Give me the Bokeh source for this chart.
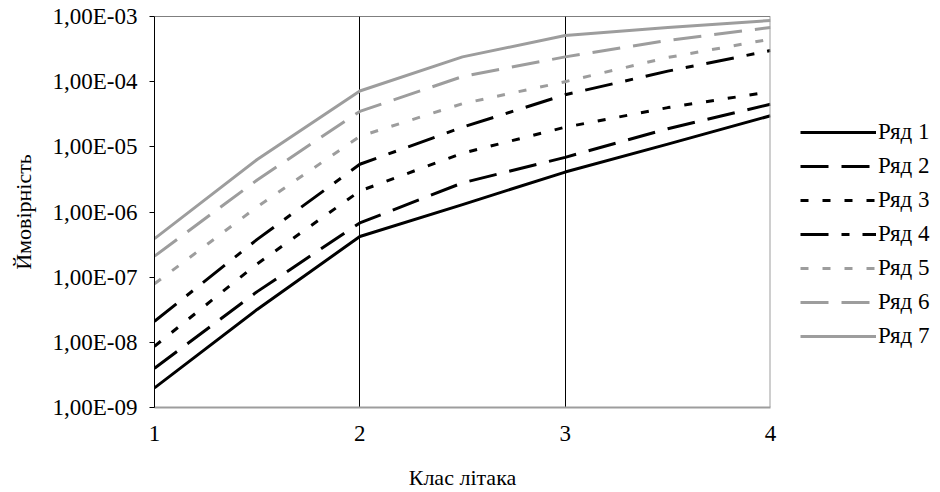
from bokeh.plotting import figure
from bokeh.models import (Range1d, FixedTicker, Span, Legend, LegendItem)
from bokeh.layouts import row
from bokeh.embed import file_html
from bokeh.resources import INLINE

# ---- data ----
x_class = [1, 1.5, 2, 2.5, 3, 3.5, 4]
ryad_1 = [2.0e-9, 3.2e-8, 4.2e-7, 1.3e-6, 4.1e-6, 1.1e-5, 3.0e-5]
ryad_2 = [4.0e-9, 6.0e-8, 6.8e-7, 2.8e-6, 6.9e-6, 1.9e-5, 4.5e-5]
ryad_3 = [8.7e-9, 1.6e-7, 2.1e-6, 8.0e-6, 2.0e-5, 4.0e-5, 7.0e-5]
ryad_4 = [2.1e-8, 3.8e-7, 5.4e-6, 2.0e-5, 6.3e-5, 1.45e-4, 3.0e-4]
ryad_5 = [7.9e-8, 1.2e-6, 1.45e-5, 4.6e-5, 1.0e-4, 2.35e-4, 4.5e-4]
ryad_6 = [2.1e-7, 3.1e-6, 3.5e-5, 1.2e-4, 2.4e-4, 4.3e-4, 6.8e-4]
ryad_7 = [3.9e-7, 6.4e-6, 7.2e-5, 2.4e-4, 5.1e-4, 6.8e-4, 8.7e-4]
series_names = ["Ряд 1", "Ряд 2", "Ряд 3", "Ряд 4", "Ряд 5", "Ряд 6", "Ряд 7"]
x_ticks = [1, 2, 3, 4]
x_tick_labels = ["1", "2", "3", "4"]
y_ticks = [1e-9, 1e-8, 1e-7, 1e-6, 1e-5, 1e-4, 1e-3]
y_tick_labels = ["1,00E-09", "1,00E-08", "1,00E-07", "1,00E-06",
                 "1,00E-05", "1,00E-04", "1,00E-03"]
x_title = "Клас літака"
y_title = "Ймовірність"

FONT = "Liberation Serif"
GRAY = "#9d9d9d"
BLACK = "#000000"
H = 492

p = figure(width=780, height=H, y_axis_type="log",
           x_range=Range1d(1, 4), y_range=Range1d(1e-9, 1e-3),
           output_backend="svg", toolbar_location=None,
           min_border_left=154, min_border_right=10,
           min_border_top=16, min_border_bottom=82)
p.outline_line_color = None
p.background_fill_color = "white"

# axes
p.xaxis.ticker = FixedTicker(ticks=x_ticks)
p.xaxis.major_label_overrides = {t: l for t, l in zip(x_ticks, x_tick_labels)}
p.yaxis.ticker = FixedTicker(ticks=y_ticks, minor_ticks=[])
p.yaxis.major_label_overrides = {t: l for t, l in zip(y_ticks, y_tick_labels)}
p.xaxis.axis_label = x_title
p.yaxis.axis_label = y_title
for ax in (p.xaxis, p.yaxis):
    ax.axis_label_text_font = FONT
    ax.axis_label_text_font_style = "normal"
    ax.axis_label_text_font_size = "22px"
    ax.axis_label_text_color = "black"
    ax.major_label_text_font = FONT
    ax.major_label_text_font_size = "23px"
    ax.major_label_text_color = "black"
    ax.minor_tick_line_color = None
    ax.major_tick_in = 0
p.xaxis.major_tick_out = 0
p.xaxis.axis_line_color = GRAY
p.xaxis.axis_line_width = 2
p.xaxis.major_label_standoff = 18
p.xaxis.axis_label_standoff = 21
p.yaxis.major_tick_out = 5
p.yaxis.major_tick_line_color = BLACK
p.yaxis.axis_line_color = BLACK
p.yaxis.axis_line_width = 1
p.yaxis.major_label_standoff = 12
p.yaxis.axis_label_standoff = 14

# grid: vertical lines at 2 and 3 only
p.ygrid.grid_line_color = None
p.xgrid.ticker = FixedTicker(ticks=[2, 3])
p.xgrid.grid_line_color = BLACK
p.xgrid.grid_line_width = 1
p.xgrid.grid_line_alpha = 1

p.add_layout(Span(location=y_ticks[-1], dimension="width",
                  line_color=BLACK, line_width=1))
p.add_layout(Span(location=x_ticks[-1], dimension="height",
                  line_color=GRAY, line_width=2))

styles = [
    (BLACK, "solid"),
    (BLACK, "28 13"),
    (BLACK, "8 14"),
    (BLACK, "28 13 8 13"),
    (GRAY, "8 14"),
    (GRAY, "28 13"),
    (GRAY, "solid"),
]
all_series = [ryad_1, ryad_2, ryad_3, ryad_4, ryad_5, ryad_6, ryad_7]
for ys, (col, dash) in zip(all_series, styles):
    p.line(x_class, ys, line_color=col, line_width=3, line_dash=dash,
           line_join="round")

# legend panel to the right of the chart (its own series copies lie
# outside its visible range, so only the legend keys show)
pl = figure(width=156, height=H, x_range=Range1d(-2, -1),
            y_range=Range1d(-2, -1),
            output_backend="svg", toolbar_location=None,
            x_axis_location=None, y_axis_location=None,
            min_border=0)
pl.outline_line_color = None
pl.grid.grid_line_color = None
items = []
for name, ys, (col, dash) in zip(series_names, all_series, styles):
    r = pl.line(x_class, ys, line_color=col, line_width=3, line_dash=dash)
    items.append(LegendItem(label=name, renderers=[r]))
legend = Legend(items=items, location=(20, 58), orientation="vertical",
                glyph_width=76, glyph_height=20, label_standoff=2,
                spacing=8, padding=0, margin=0,
                border_line_color=None, background_fill_alpha=0,
                label_text_font=FONT, label_text_font_size="23px",
                label_text_color="black", label_height=20)
pl.add_layout(legend)

layout = row(p, pl)
open("out.html", "w").write(file_html(layout, INLINE))
